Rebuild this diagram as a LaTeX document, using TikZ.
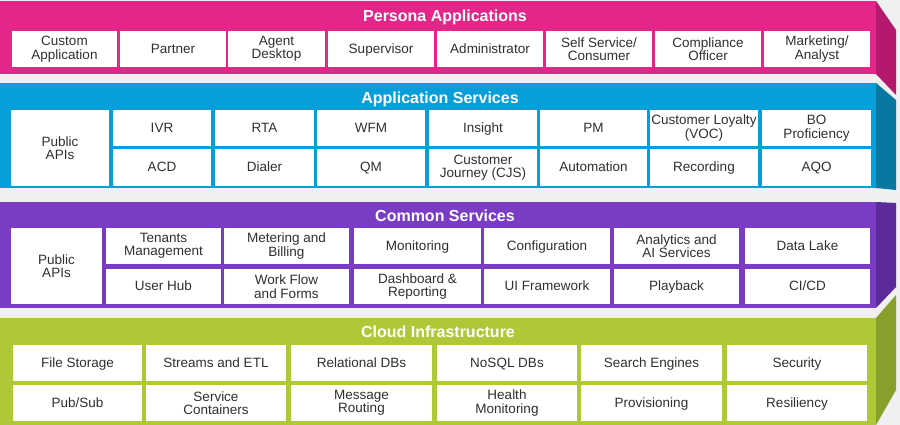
\documentclass[tikz,border=0pt]{standalone}
\usepackage{fontspec}
\setmainfont{Liberation Sans}
\definecolor{bg}{HTML}{F0F0F0}
\definecolor{pinkF}{HTML}{E4268B}
\definecolor{pinkS}{HTML}{B5186C}
\definecolor{blueF}{HTML}{089ED9}
\definecolor{blueS}{HTML}{0878A3}
\definecolor{purpF}{HTML}{7A3CC5}
\definecolor{purpS}{HTML}{5D2A9A}
\definecolor{grnF}{HTML}{AEC838}
\definecolor{grnS}{HTML}{87A02C}
\definecolor{txt}{HTML}{303030}
\tikzset{
  bx/.style={fill=white, draw=none, inner sep=0pt, align=center, text=txt,
    font=\fontsize{13.5}{13.5}\selectfont},
  one/.style={text height=9.7pt, text depth=1pt},
  two/.style={},
  ttl/.style={text=white, inner sep=0pt, anchor=base,
    font=\fontsize{16}{18}\selectfont\bfseries},
}
\newcommand\cell[7][one]{%
  \node[bx, #1, minimum width={(#5-#3)*1pt}, minimum height={(#6-#4)*1pt}]
    (#2) at ({(#3+#5)/2},{(#4+#6)/2}) {#7};}
\begin{document}
\begin{tikzpicture}[x=1pt,y=-1pt]
\fill[bg] (0,0) rectangle (900,425);
\useasboundingbox (0,0) rectangle (900,425);
% ---------- bands ----------
\fill[pinkS] (876,1) -- (896,30) -- (896,95) -- (876,74) -- cycle;
\fill[pinkF] (0,1) rectangle (876,74);
\fill[blueS] (876,83) -- (896,100) -- (896,190) -- (876,188) -- cycle;
\fill[blueF] (0,83) rectangle (876,188);
\fill[purpS] (876,202) -- (896,203) -- (896,287) -- (876,308) -- cycle;
\fill[purpF] (0,202) rectangle (876,308);
\fill[grnS] (876,318) -- (896,295) -- (896,390) -- (876,425) -- cycle;
\fill[grnF] (0,318) rectangle (876,425);
% ---------- titles ----------
\node[ttl] (t1) at (445,22) {Persona Applications};
\node[ttl] (t2) at (440,104) {Application Services};
\node[ttl] (t3) at (445,221) {Common Services};
\node[ttl] (t4) at (438,337) {Cloud Infrastructure};
% ---------- persona ----------
\cell[two]{p1}{12}{31}{117}{67}{Custom\\Application}
\cell{p2}{120}{31}{226}{67}{Partner}
\cell[two]{p3}{228}{31}{325}{67}{Agent\\Desktop}
\cell{p4}{328}{31}{434}{67}{Supervisor}
\cell{p5}{437}{31}{543}{67}{Administrator}
\cell[two]{p6}{546}{31}{652}{67}{Self Service/\\Consumer}
\cell[two]{p7}{655}{31}{761}{67}{Compliance\\Officer}
\cell[two]{p8}{764}{31}{870}{67}{Marketing/\\Analyst}
% ---------- application services ----------
\cell[two]{a0}{11}{110}{109}{186}{Public\\APIs}
\cell{a1}{113}{110}{211}{146}{IVR}
\cell{a2}{215}{110}{314}{146}{RTA}
\cell{a3}{317}{110}{425}{146}{WFM}
\cell{a4}{429}{110}{537}{146}{Insight}
\cell{a5}{540}{110}{647}{146}{PM}
\cell[two]{a6}{650}{110}{758}{146}{Customer Loyalty\\(VOC)}
\cell[two]{a7}{762}{110}{871}{146}{BO\\Proficiency}
\cell{b1}{113}{149}{211}{186}{ACD}
\cell{b2}{215}{149}{314}{186}{Dialer}
\cell{b3}{317}{149}{425}{186}{QM}
\cell[two]{b4}{429}{149}{537}{186}{Customer\\Journey (CJS)}
\cell{b5}{540}{149}{647}{186}{Automation}
\cell{b6}{650}{149}{758}{186}{Recording}
\cell{b7}{762}{149}{871}{186}{AQO}
% ---------- common services ----------
\cell[two]{c0}{11}{228}{102}{304}{Public\\APIs}
\cell[two]{c1}{106}{228}{221}{264}{Tenants\\Management}
\cell[two]{c2}{224}{228}{349}{264}{Metering and\\Billing}
\cell{c3}{354}{228}{481}{264}{Monitoring}
\cell{c4}{484}{228}{610}{264}{Configuration}
\cell[two]{c5}{614}{228}{739}{264}{Analytics and\\AI Services}
\cell{c6}{745}{228}{870}{264}{Data Lake}
\cell{d1}{106}{269}{221}{304}{User Hub}
\cell[two]{d2}{224}{269}{349}{304}{Work Flow\\and Forms}
\cell[two]{d3}{354}{269}{481}{304}{Dashboard \&\\Reporting}
\cell{d4}{484}{269}{610}{304}{UI Framework}
\cell{d5}{614}{269}{739}{304}{Playback}
\cell{d6}{745}{269}{870}{304}{CI/CD}
% ---------- cloud infrastructure ----------
\cell{e1}{13}{345}{142}{381}{File Storage}
\cell{e2}{146}{345}{286}{381}{Streams and ETL}
\cell{e3}{291}{345}{432}{381}{Relational DBs}
\cell{e4}{437}{345}{577}{381}{NoSQL DBs}
\cell{e5}{581}{345}{722}{381}{Search Engines}
\cell{e6}{727}{345}{867}{381}{Security}
\cell{f1}{13}{385}{142}{421}{Pub/Sub}
\cell[two]{f2}{146}{385}{286}{421}{Service\\Containers}
\cell[two]{f3}{291}{385}{432}{421}{Message\\Routing}
\cell[two]{f4}{437}{385}{577}{421}{Health\\Monitoring}
\cell{f5}{581}{385}{722}{421}{Provisioning}
\cell{f6}{727}{385}{867}{421}{Resiliency}
\end{tikzpicture}
\end{document}
